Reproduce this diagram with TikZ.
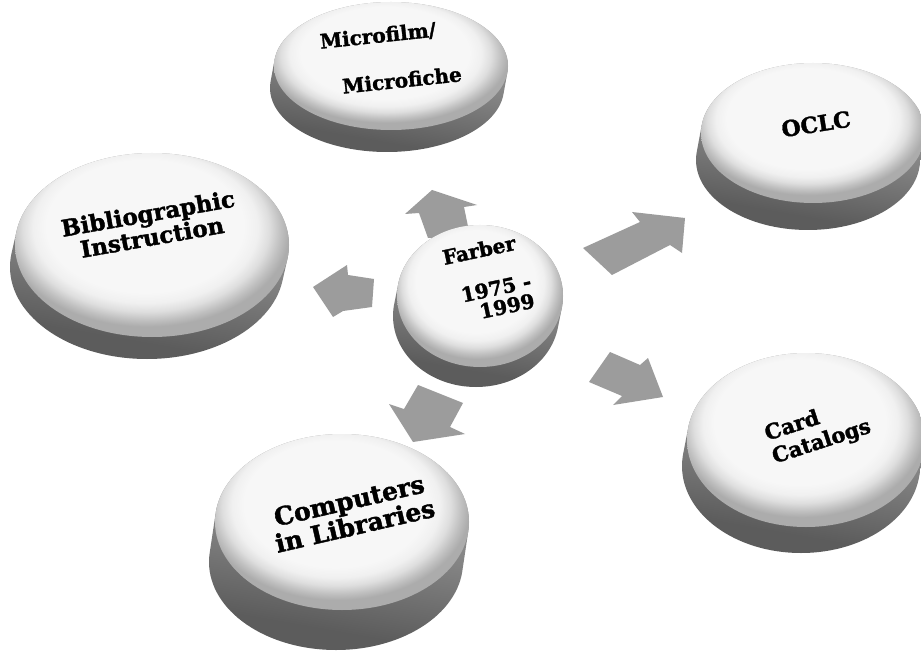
\documentclass[tikz,border=0pt]{standalone}
\usepackage{fontspec}
\setmainfont{DejaVu Serif}
\newfontfamily\heavyfont{DejaVu Serif}[FakeBold=1.6]
\definecolor{arrowgray}{RGB}{156,156,156}
\definecolor{faceW}{RGB}{247,247,247}
\definecolor{faceR0}{RGB}{240,240,240}
\definecolor{faceR1}{RGB}{222,222,222}
\definecolor{faceR2}{RGB}{192,192,192}
\definecolor{faceR3}{RGB}{172,172,172}
\definecolor{sideL}{RGB}{165,165,165}
\definecolor{sideM}{RGB}{132,132,132}
\definecolor{sideD}{RGB}{92,92,92}
\pgfdeclareradialshading{diskface}{\pgfpoint{-2bp}{8bp}}{%
  color(0bp)=(faceW); color(18bp)=(faceW); color(20.5bp)=(faceR0); color(22.5bp)=(faceR1); color(24.5bp)=(faceR2); color(26bp)=(faceR3); color(50bp)=(faceR3)}
\pgfdeclareverticalshading{diskside}{100bp}{%
  color(0bp)=(sideD); color(30bp)=(sideD); color(50bp)=(sideM); color(75bp)=(sideL); color(100bp)=(sideL)}
\newcommand\buttondisk[6]{%
  \path[shading=diskside, shading angle=-10]
    foreach \k in {0,1,...,24}{ ({#1+#5*\k/24},{#2+#6*\k/24}) ellipse [x radius=#3, y radius=#4] };
  \path[shading=diskface] (#1,#2) ellipse [x radius=#3, y radius=#4];
}
\tikzset{
  lbl/.style 2 args={font=\heavyfont\bfseries\fontsize{#1}{#2}\selectfont, align=center, inner sep=0pt, text=black},
  blockarrow/.style={fill=arrowgray, draw=none}
}
\begin{document}
\begin{tikzpicture}[x=1pt,y=-1pt]
\useasboundingbox (0,0) rectangle (921,655);
\fill[white] (0,0) rectangle (921,655);

% block arrows (behind the buttons)
\path[blockarrow] (432,190) -- (477,205) -- (464,207) -- (470,236) -- (428,238) -- (419,213) -- (405,214) -- cycle;
\path[blockarrow] (313,287) -- (347,265) -- (348,275) -- (374,279) -- (372,307) -- (343,311) -- (333,317) -- cycle;
\path[blockarrow] (583,248) -- (640,222) -- (632,212) -- (685,218) -- (682,253) -- (670,245) -- (612,275) -- cycle;
\path[blockarrow] (589,382) -- (610,352) -- (640,365) -- (648,358) -- (663,397) -- (613,405) -- (622,396) -- cycle;
\path[blockarrow] (418,385) -- (463,403) -- (450,427) -- (465,434) -- (413,442) -- (389,404) -- (404,409) -- cycle;

% buttons
\buttondisk{391}{66}{117}{64}{-4}{22}
\buttondisk{813}{133}{112}{70}{-5}{27}
\buttondisk{152}{245}{137}{92}{-5}{22}
\buttondisk{480}{296}{83}{71}{-4}{20}
\buttondisk{806}{440}{119}{87}{-5}{26}
\buttondisk{342}{522}{127}{88}{-6}{40}

% labels
\node[lbl={20}{22}, rotate=6] (micro1) at (378,36) {Microfilm/};
\node[lbl={20}{22}, rotate=6] (micro2) at (402,80) {Microfiche};
\node[lbl={22}{24}, rotate=9] (oclc) at (816,124) {OCLC};
\node[lbl={23}{24}, rotate=10] (biblio) at (150,225) {Bibliographic\\Instruction};
\node[lbl={20}{22}, rotate=12] (farber1) at (479,250) {Farber};
\node[lbl={20}{22}, rotate=12] (farber2) at (496,288) {1975 -};
\node[lbl={20}{22}, rotate=12] (farber3) at (507,306) {1999};
\node[lbl={21}{24}, rotate=18, align=left] (card) at (818,431) {Card\\Catalogs};
\node[lbl={25}{26}, rotate=13] (comp) at (352,513) {Computers\\in Libraries};
\end{tikzpicture}
\end{document}
